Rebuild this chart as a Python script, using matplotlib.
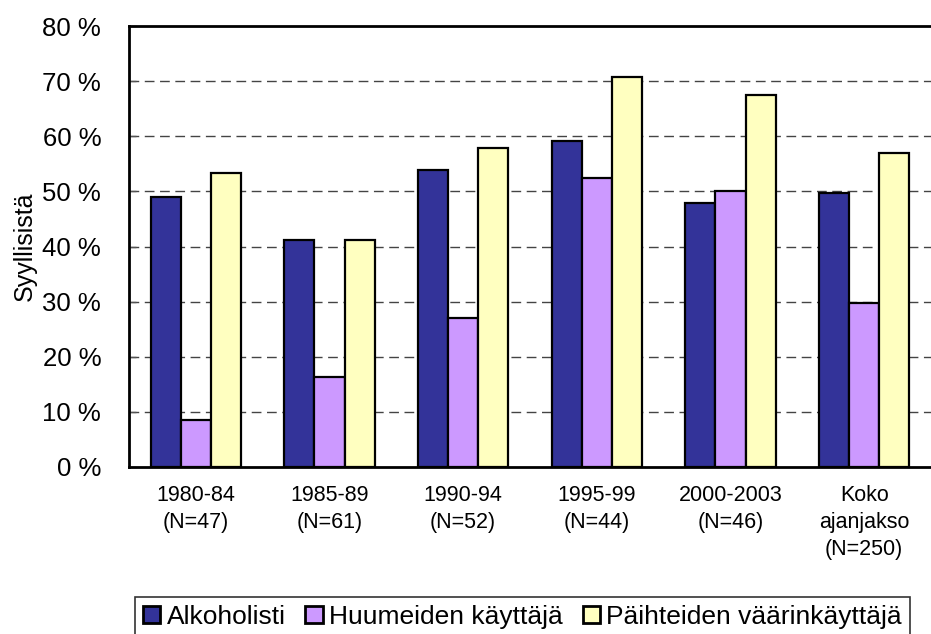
import matplotlib.pyplot as plt
import numpy as np

plt.rcParams['font.family'] = ['Liberation Sans', 'DejaVu Sans']

# data
periods = ["1980-84\n(N=47)", "1985-89\n(N=61)", "1990-94\n(N=52)",
           "1995-99\n(N=44)", "2000-2003\n(N=46)", "Koko\najanjakso\n(N=250)"]
alkoholisti = [49.0, 41.1, 53.9, 59.2, 47.9, 49.7]
huumeet = [8.5, 16.4, 27.0, 52.4, 50.1, 29.7]
paihteet = [53.4, 41.1, 57.8, 70.7, 67.5, 56.9]
series_names = ["Alkoholisti", "Huumeiden käyttäjä", "Päihteiden väärinkäyttäjä"]
colors = ["#333399", "#CC99FF", "#FFFFC0"]

fig = plt.figure(figsize=(9.31, 6.34), dpi=100)
ax = fig.add_axes([129 / 931, 167 / 634, 802 / 931, 441 / 634])

x = np.arange(len(periods))
w = 0.2256
for i, (vals, name, c) in enumerate(zip([alkoholisti, huumeet, paihteet], series_names, colors)):
    ax.bar(x + (i - 1) * w, vals, w, color=c, edgecolor="black", linewidth=1.6,
           label=name, zorder=3)

ax.set_xlim(-0.5, len(periods) - 0.5)
ax.set_ylim(0, 80)
ax.set_yticks(range(0, 81, 10))
ax.set_yticklabels([f"{v} %" for v in range(0, 81, 10)], fontsize=18.5)
ax.set_xticks(x)
ax.set_xticklabels(periods, fontsize=15.5, linespacing=1.38, va="top")
ax.tick_params(axis="x", length=0, pad=13)
ax.tick_params(axis="y", direction="in", length=5, width=1, color="#555555", pad=20)

for v in range(10, 80, 10):
    ax.axhline(v, color="#444444", linewidth=1.0, dashes=(7, 4), zorder=1)

for side in ["left", "top", "bottom"]:
    ax.spines[side].set_linewidth(2)
    ax.spines[side].set_color("black")
ax.spines["right"].set_visible(False)

ax.set_ylabel("Syyllisistä", fontsize=18, labelpad=4)

leg = fig.legend(loc="upper left", bbox_to_anchor=(135 / 931, 1 - 597 / 634),
                 ncol=3, fontsize=19, frameon=True, fancybox=False,
                 handlelength=0.65, handleheight=0.65, handletextpad=0.25,
                 columnspacing=0.75, borderpad=0.3, borderaxespad=0)
leg.get_frame().set_edgecolor("black")
leg.get_frame().set_linewidth(1.2)
for h in leg.legend_handles:
    h.set_linewidth(2)

fig.savefig("out.png", dpi=100)
